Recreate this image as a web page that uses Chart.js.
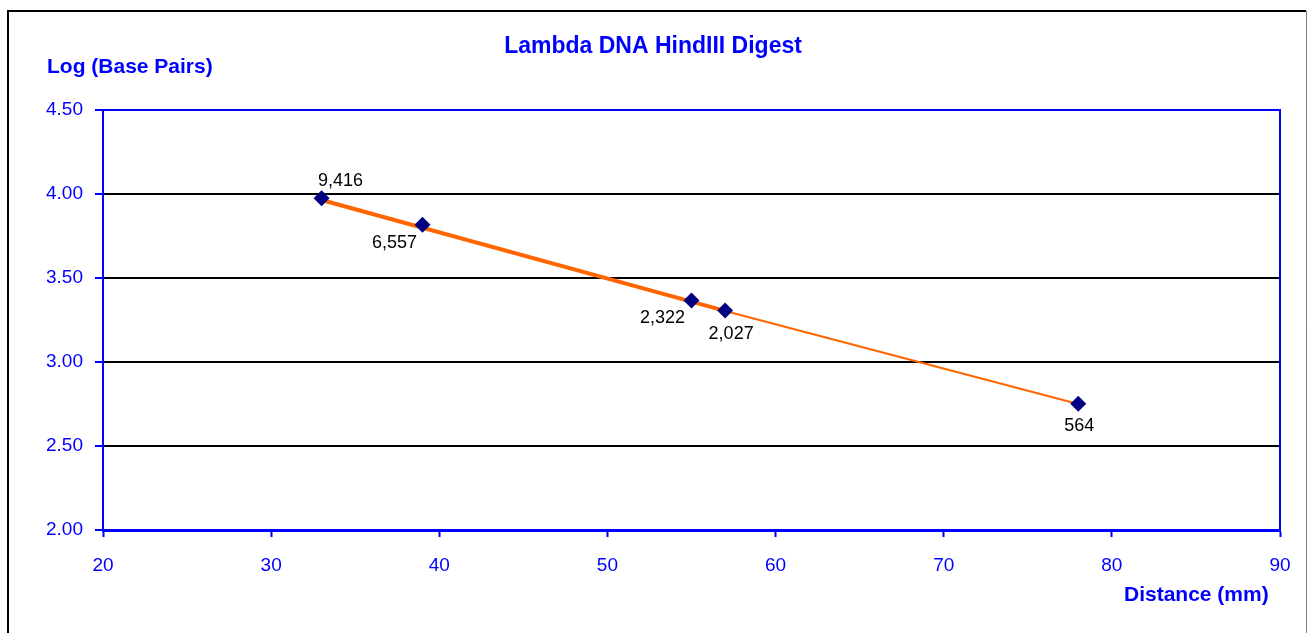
<!DOCTYPE html>
<html>
<head>
<meta charset="utf-8">
<script src="https://cdn.jsdelivr.net/npm/chart.js@4/dist/chart.umd.min.js"></script>
<style>
  html, body { margin: 0; padding: 0; background: #fff; }
  #wrap { width: 1309px; height: 633px; position: relative; }
</style>
</head>
<body>
<div id="wrap"><canvas id="myChart" width="1309" height="633"></canvas></div>
<script>
// distance travelled (mm) and log10 of fragment size
const distances = [33, 39, 55, 57, 78]
const logBasePairs = [3.974, 3.817, 3.366, 3.307, 2.751]
const bandLabels = ['9,416', '6,557', '2,322', '2,027', '564']

// fitted line (thick part, then thin part)
const fitThickX = [33, 57]
const fitThickY = [3.964, 3.304]
const fitThinX = [57, 78]
const fitThinY = [3.304, 2.75]

const xTicks = [20, 30, 40, 50, 60, 70, 80, 90]
const yTicks = [2.0, 2.5, 3.0, 3.5, 4.0, 4.5]

const BLUE = '#0000ff'
const NAVY = '#000080'
const ORANGE = '#ff6600'
const FONT = '"Liberation Sans", Arial, sans-serif'

// label offsets relative to each marker
const labelOffsets = [[19, -17], [-28, 18], [-29, 18], [6, 24], [1, 22]]

const frame = {
  id: 'frame',
  beforeDraw(chart) {
    const c = chart.ctx
    c.save()
    c.fillStyle = '#fff'
    c.fillRect(0, 0, chart.width, chart.height)
    c.strokeStyle = '#000'
    c.lineWidth = 2
    c.beginPath()
    c.moveTo(8, 700)
    c.lineTo(8, 11)
    c.lineTo(1306, 11)
    c.stroke()
    c.strokeStyle = '#808080'
    c.lineWidth = 1
    c.beginPath()
    c.moveTo(1306.5, 11)
    c.lineTo(1306.5, 700)
    c.stroke()
    c.restore()
  },
  afterDraw(chart) {
    const c = chart.ctx
    const a = chart.chartArea
    c.save()
    // top and right sides of plot box
    c.strokeStyle = BLUE
    c.lineWidth = 2
    c.beginPath()
    c.moveTo(a.left, a.top)
    c.lineTo(a.right, a.top)
    c.lineTo(a.right, a.bottom)
    c.stroke()

    c.fillStyle = BLUE
    c.font = 'bold 23px ' + FONT
    c.textAlign = 'center'
    c.textBaseline = 'middle'
    c.fillText('Lambda DNA HindIII Digest', 653, 47)
    c.font = 'bold 21px ' + FONT
    c.textAlign = 'left'
    c.fillText('Log (Base Pairs)', 47, 67)
    c.fillText('Distance (mm)', 1124, 595)

    // data labels
    const meta = chart.getDatasetMeta(0)
    c.fillStyle = '#000'
    c.font = '18px ' + FONT
    c.textAlign = 'center'
    meta.data.forEach((pt, i) => {
      const o = labelOffsets[i]
      c.fillText(bandLabels[i], pt.x + o[0], pt.y + o[1])
    })
    c.restore()
  }
}

new Chart(document.getElementById('myChart').getContext('2d'), {
  type: 'scatter',
  data: {
    datasets: [
      {
        label: 'Bands',
        data: distances.map((x, i) => ({ x, y: logBasePairs[i] })),
        pointStyle: 'rectRot',
        pointRadius: 8,
        backgroundColor: NAVY,
        borderColor: NAVY,
        borderWidth: 0,
        showLine: false,
        order: 0
      },
      {
        label: 'Fit',
        data: fitThickX.map((x, i) => ({ x, y: fitThickY[i] })),
        showLine: true,
        borderColor: ORANGE,
        borderWidth: 4,
        pointRadius: 0,
        order: 2
      },
      {
        label: 'Fit 2',
        data: fitThinX.map((x, i) => ({ x, y: fitThinY[i] })),
        showLine: true,
        borderColor: ORANGE,
        borderWidth: 2,
        pointRadius: 0,
        order: 1
      }
    ]
  },
  options: {
    responsive: false,
    animation: false,
    events: [],
    layout: { padding: { left: 0, top: 110, right: 29, bottom: 0 } },
    plugins: { legend: { display: false }, tooltip: { enabled: false }, title: { display: false } },
    scales: {
      x: {
        type: 'linear',
        min: 20,
        max: 90,
        afterFit(s) { s.height = 103 },
        afterBuildTicks(s) { s.ticks = xTicks.map(v => ({ value: v })) },
        border: { color: BLUE, width: 3 },
        grid: { drawOnChartArea: false, drawTicks: true, tickLength: 7, tickColor: BLUE, tickWidth: 2 },
        ticks: { color: BLUE, padding: 17, font: { size: 19, family: FONT }, maxRotation: 0 }
      },
      y: {
        type: 'linear',
        min: 2.0,
        max: 4.5,
        afterFit(s) { s.width = 103 },
        afterBuildTicks(s) { s.ticks = yTicks.map(v => ({ value: v })) },
        border: { color: BLUE, width: 2 },
        grid: {
          color: ctx => (ctx.tick && (ctx.tick.value === 2 || ctx.tick.value === 4.5)) ? 'rgba(0,0,0,0)' : '#000',
          lineWidth: 2,
          tickLength: 8,
          tickColor: BLUE,
          tickWidth: 2
        },
        ticks: {
          color: BLUE,
          padding: 12,
          font: { size: 19, family: FONT },
          callback: v => Number(v).toFixed(2)
        }
      }
    }
  },
  plugins: [frame]
})
</script>
</body>
</html>
